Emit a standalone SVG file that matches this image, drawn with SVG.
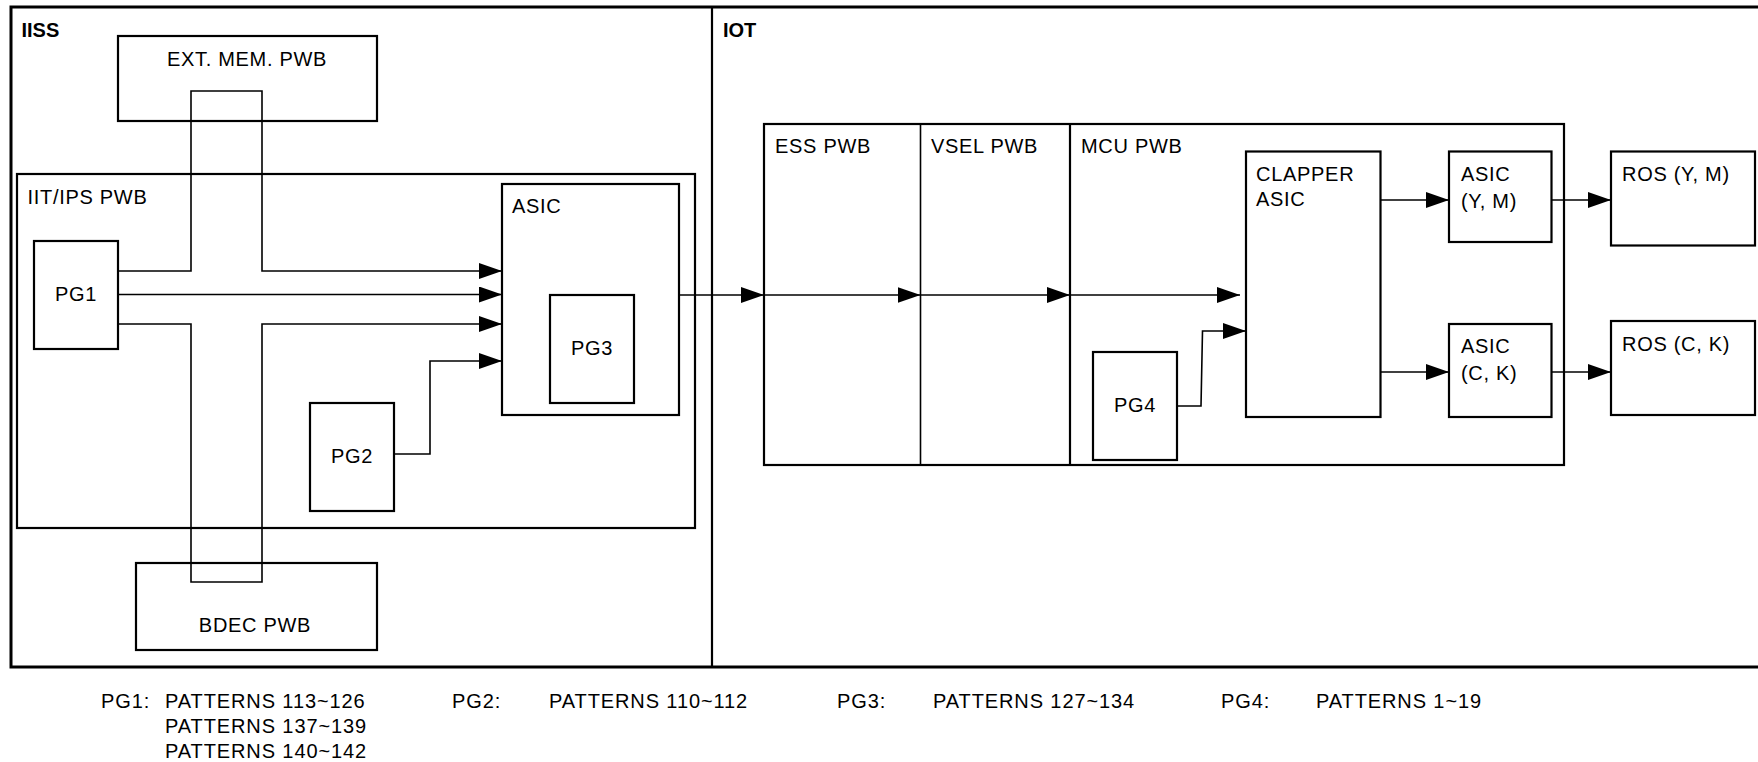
<svg xmlns="http://www.w3.org/2000/svg" width="1758" height="762" viewBox="0 0 1758 762">
<style>
text{font-family:"Liberation Sans",Arial,sans-serif;font-size:20px;letter-spacing:0.7px;fill:#000}
.b{font-weight:bold;letter-spacing:0}
.c{text-anchor:middle}
.lg{letter-spacing:0.9px}
.box{fill:none;stroke:#000;stroke-width:2.2}
.frame{fill:none;stroke:#000;stroke-width:3}
.ln{fill:none;stroke:#000;stroke-width:1.6}
.ar{fill:none;stroke:#000;stroke-width:1.6;marker-end:url(#ah)}
</style>
<defs>
<marker id="ah" markerUnits="userSpaceOnUse" markerWidth="23" markerHeight="16" refX="23" refY="8" orient="auto">
<path d="M0,0 L23,8 L0,16 z" fill="#000"/>
</marker>
</defs>
<rect width="1758" height="762" fill="#fff"/>
<g id="frame">
<rect class="frame" x="11" y="7" width="1770" height="660"/>
<line class="box" x1="712" y1="7" x2="712" y2="667"/>
<text class="b" x="21.5" y="37">IISS</text>
<text class="b" x="723" y="37">IOT</text>
</g>
<g id="ext-mem">
<rect class="box" x="118" y="36" width="259" height="85"/>
<text class="c" x="247" y="66">EXT. MEM. PWB</text>
</g>
<g id="iit-ips">
<rect class="box" x="17" y="174" width="678" height="354"/>
<text x="27.5" y="204">IIT/IPS PWB</text>
</g>
<g id="asic">
<rect class="box" x="502" y="184" width="177" height="231"/>
<text x="512" y="213">ASIC</text>
</g>
<g id="pg3">
<rect class="box" x="550" y="295" width="84" height="108"/>
<text class="c" x="592" y="355">PG3</text>
</g>
<g id="pg1">
<rect class="box" x="34" y="241" width="84" height="108"/>
<text class="c" x="76" y="301">PG1</text>
</g>
<g id="pg2">
<rect class="box" x="310" y="403" width="84" height="108"/>
<text class="c" x="352" y="463">PG2</text>
</g>
<g id="bdec">
<rect class="box" x="136" y="563" width="241" height="87"/>
<text class="c" x="255" y="632">BDEC PWB</text>
</g>
<g id="iot-board">
<rect class="box" x="764" y="124" width="800" height="341"/>
<line class="ln" x1="920.5" y1="124" x2="920.5" y2="465"/>
<line class="box" x1="1070" y1="124" x2="1070" y2="465"/>
<text x="775" y="153">ESS PWB</text>
<text x="931" y="153">VSEL PWB</text>
<text x="1081" y="153">MCU PWB</text>
</g>
<g id="pg4">
<rect class="box" x="1093" y="352" width="84" height="108"/>
<text class="c" x="1135" y="412">PG4</text>
</g>
<g id="clapper">
<rect class="box" x="1246" y="151.5" width="134.5" height="265.5"/>
<text x="1256" y="181">CLAPPER</text>
<text x="1256" y="206">ASIC</text>
</g>
<g id="asic-ym">
<rect class="box" x="1449" y="151.5" width="102.5" height="90.5"/>
<text x="1461" y="181">ASIC</text>
<text x="1461" y="208">(Y, M)</text>
</g>
<g id="asic-ck">
<rect class="box" x="1449" y="324" width="102.5" height="93"/>
<text x="1461" y="353">ASIC</text>
<text x="1461" y="380">(C, K)</text>
</g>
<g id="ros-ym">
<rect class="box" x="1611" y="151.5" width="144" height="94"/>
<text x="1622" y="181">ROS (Y, M)</text>
</g>
<g id="ros-ck">
<rect class="box" x="1611" y="321" width="144" height="94"/>
<text x="1622" y="351">ROS (C, K)</text>
</g>
<g id="connectors">
<path class="ar" d="M118,271 H191 V91 H262 V271 H502"/>
<path class="ar" d="M118,294.5 H502"/>
<path class="ar" d="M118,324 H191 V582 H262 V324 H502"/>
<path class="ar" d="M394,454 H430 V361 H502"/>
<path class="ar" d="M679,295 H764"/>
<path class="ar" d="M764,295 H920.5"/>
<path class="ar" d="M920.5,295 H1070"/>
<path class="ar" d="M1070,295 H1240"/>
<path class="ar" d="M1177,406 H1201 L1202.5,331 H1246"/>
<path class="ar" d="M1380.5,200 H1449"/>
<path class="ar" d="M1380.5,372 H1449"/>
<path class="ar" d="M1551.5,200 H1611"/>
<path class="ar" d="M1551.5,372 H1611"/>
</g>
<g id="legend">
<text class="lg" x="101" y="708">PG1:</text>
<text class="lg" x="165" y="708">PATTERNS 113~126</text>
<text class="lg" x="165" y="733">PATTERNS 137~139</text>
<text class="lg" x="165" y="758">PATTERNS 140~142</text>
<text class="lg" x="452" y="708">PG2:</text>
<text class="lg" x="549" y="708">PATTERNS 110~112</text>
<text class="lg" x="837" y="708">PG3:</text>
<text class="lg" x="933" y="708">PATTERNS 127~134</text>
<text class="lg" x="1221" y="708">PG4:</text>
<text class="lg" x="1316" y="708">PATTERNS 1~19</text>
</g>
</svg>
